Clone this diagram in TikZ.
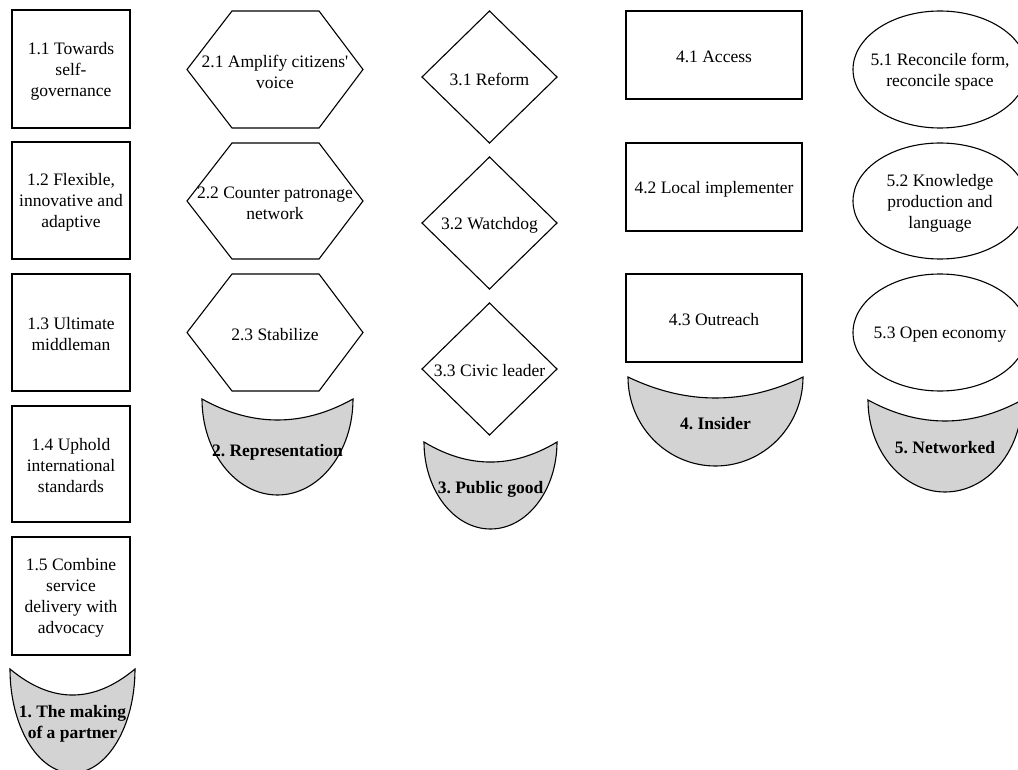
\documentclass[tikz,border=0pt]{standalone}
\usepackage{fontspec}
\setmainfont{Liberation Serif}
\definecolor{grpfill}{HTML}{D3D3D3}
\begin{document}
\frenchspacing
\begin{tikzpicture}[x=1pt,y=-1pt,
  lbl/.style={font=\fontsize{17.5pt}{21pt}\selectfont, align=center, inner sep=0pt, yshift=-2pt},
  boxnode/.style={draw=black, line width=1.1pt, fill=white, font=\fontsize{17.5pt}{21pt}\selectfont, align=center, inner sep=0pt},
  boxtext/.style={lbl},
  outl/.style={draw=black, line width=1.1pt, line join=miter},
  grp/.style={outl, fill=grpfill},
  grplbl/.style={lbl, font=\bfseries\fontsize{17.5pt}{21pt}\selectfont}]
\useasboundingbox (0,0) rectangle (1018,770);
\clip (0,0) rectangle (1018,770);

% Column 1
\node[boxnode, minimum width=118pt, minimum height=118pt] (r11) at (71,69) {};
\node[boxtext] (t11) at (r11) {1.1 Towards\\self-\\governance};
\node[boxnode, minimum width=118pt, minimum height=117pt] (r12) at (71,200.5) {};
\node[boxtext] (t12) at (r12) {1.2 Flexible,\\innovative and\\adaptive};
\node[boxnode, minimum width=118pt, minimum height=117pt] (r13) at (71,332.5) {};
\node[boxtext] (t13) at (r13) {1.3 Ultimate\\middleman};
\node[boxnode, minimum width=118pt, minimum height=116pt] (r14) at (71,464) {};
\node[boxtext] (t14) at (r14) {1.4 Uphold\\international\\standards};
\node[boxnode, minimum width=118pt, minimum height=118pt] (r15) at (71,596) {};
\node[boxtext] (t15) at (r15) {1.5 Combine\\service\\delivery with\\advocacy};
\draw[grp] (10,669) .. controls (51.7,703.7) and (93.3,703.7) .. (135,669)
  .. controls (135,726.4) and (107,773) .. (72.5,773)
  .. controls (38,773) and (10,726.4) .. (10,669) -- cycle;
\node[grplbl] (g1) at (72.5,722) {1. The making\\of a partner};

% Column 2
\draw[outl, fill=white] (187,69.5) -- (232,11) -- (319,11) -- (363,69.5) -- (319,128) -- (232,128) -- cycle;
\node[lbl] (h21) at (275,69.5) {2.1 Amplify citizens\textquotesingle\\voice};
\draw[outl, fill=white] (187,201) -- (232,143) -- (319,143) -- (363,201) -- (319,259) -- (232,259) -- cycle;
\node[lbl] (h22) at (275,201) {2.2 Counter patronage\\network};
\draw[outl, fill=white] (187,332.5) -- (232,274) -- (319,274) -- (363,332.5) -- (319,391) -- (232,391) -- cycle;
\node[lbl] (h23) at (275,332.5) {2.3 Stabilize};
\draw[grp] (202,399) .. controls (252.3,427) and (302.7,427) .. (353,399)
  .. controls (353,452) and (319.2,495) .. (277.5,495)
  .. controls (235.8,495) and (202,452) .. (202,399) -- cycle;
\node[grplbl] (g2) at (277.5,450) {2. Representation};

% Column 3
\draw[outl, fill=white] (489.5,11) -- (557,77) -- (489.5,143) -- (422,77) -- cycle;
\node[lbl] (d31) at (489.5,77) {3.1 Reform};
\draw[outl, fill=white] (489.5,157) -- (557,223) -- (489.5,289) -- (422,223) -- cycle;
\node[lbl] (d32) at (489.5,223) {3.2 Watchdog};
\draw[outl, fill=white] (489.5,303) -- (557,369) -- (489.5,435) -- (422,369) -- cycle;
\node[lbl] (d33) at (489.5,369) {3.3 Civic leader};
\draw[grp] (424,442) .. controls (468.3,468.7) and (512.7,468.7) .. (557,442)
  .. controls (557,490) and (527.2,529) .. (490.5,529)
  .. controls (453.8,529) and (424,490) .. (424,442) -- cycle;
\node[grplbl] (g3) at (490.5,487) {3. Public good};

% Column 4
\node[boxnode, minimum width=176pt, minimum height=88pt] (r41) at (714,55) {};
\node[boxtext] (t41) at (r41) {4.1 Access};
\node[boxnode, minimum width=176pt, minimum height=88pt] (r42) at (714,187) {};
\node[boxtext] (t42) at (r42) {4.2 Local implementer};
\node[boxnode, minimum width=176pt, minimum height=88pt] (r43) at (714,318) {};
\node[boxtext] (t43) at (r43) {4.3 Outreach};
\draw[grp] (628,377) .. controls (686.3,405) and (744.7,405) .. (803,377)
  .. controls (803,426.2) and (763.8,466) .. (715.5,466)
  .. controls (667.2,466) and (628,426.2) .. (628,377) -- cycle;
\node[grplbl] (g4) at (715.5,421.5) {4. Insider};

% Column 5
\draw[outl, fill=white] (940,69.5) ellipse [x radius=87, y radius=58.5];
\node[lbl] (e51) at (940,69.5) {5.1 Reconcile form,\\reconcile space};
\draw[outl, fill=white] (940,201) ellipse [x radius=87, y radius=58];
\node[lbl] (e52) at (940,201) {5.2 Knowledge\\production and\\language};
\draw[outl, fill=white] (940,332.5) ellipse [x radius=87, y radius=58.5];
\node[lbl] (e53) at (940,332.5) {5.3 Open economy};
\draw[grp] (868,400) .. controls (919.3,428) and (970.7,428) .. (1022,400)
  .. controls (1022,450.8) and (987.5,492) .. (945,492)
  .. controls (902.5,492) and (868,450.8) .. (868,400) -- cycle;
\node[grplbl] (g5) at (945,446) {5. Networked};
\end{tikzpicture}
\end{document}
